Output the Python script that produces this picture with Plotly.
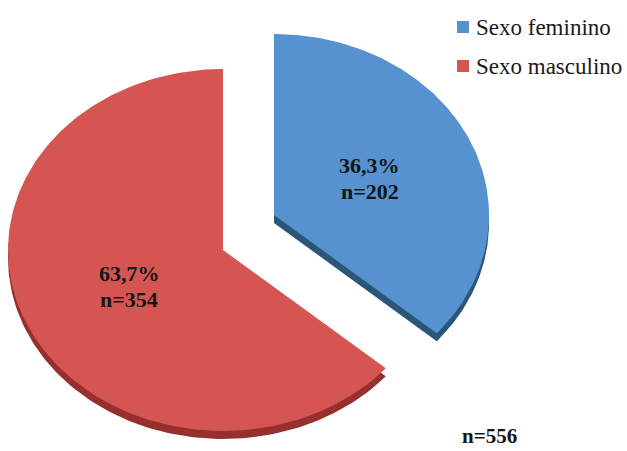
import numpy as np
import plotly.graph_objects as go

# Data
categories = ["Sexo feminino", "Sexo masculino"]
counts = [202, 354]
total_label = "n=556"

# Styling
SERIF = "Liberation Serif"
top_colors = ["#5592cf", "#d45552"]
side_colors = ["#2c5677", "#962f2d"]
W, H = 627, 451
RX, RY = 215, 181          # pie ellipse radii (px in axis units)
DEPTH = 8                  # thickness of the 3D rim
centers = [(274, 215), (223, 250)]   # blue slice is pulled out
label_r = [0.49, 0.48]

# key (legend) placement
KEY_X, KEY_Y0, KEY_DY = 463, 27, 39

total = sum(counts)
fracs = [c / total for c in counts]
pct_text = [f"{100 * f:.1f}%".replace(".", ",") for f in fracs]
n_text = [f"n={c}" for c in counts]

starts = np.cumsum([0] + fracs[:-1]) * 360.0
ends = starts + np.array(fracs) * 360.0


def wedge(cx, cy, a0, a1, dy=0.0):
    t = np.radians(np.linspace(a0, a1, 200))
    xs = np.concatenate([[cx], cx + RX * np.sin(t), [cx]])
    ys = np.concatenate([[cy], cy - RY * np.cos(t), [cy]]) + dy
    return xs, ys


fig = go.Figure()

# rims first, then tops
for i in range(len(counts)):
    cx, cy = centers[i]
    xs, ys = wedge(cx, cy, starts[i], ends[i], DEPTH)
    fig.add_trace(go.Scatter(x=xs, y=ys, fill="toself", mode="lines",
                             line=dict(width=0, color=side_colors[i]),
                             fillcolor=side_colors[i], showlegend=False,
                             hoverinfo="skip"))
for i in range(len(counts)):
    cx, cy = centers[i]
    xs, ys = wedge(cx, cy, starts[i], ends[i])
    fig.add_trace(go.Scatter(x=xs, y=ys, fill="toself", mode="lines",
                             line=dict(width=0, color=top_colors[i]),
                             fillcolor=top_colors[i], showlegend=False,
                             name=categories[i]))

# slice labels: percentage and count on separate lines
for i in range(len(counts)):
    cx, cy = centers[i]
    mid = np.radians((starts[i] + ends[i]) / 2)
    lx = cx + label_r[i] * RX * np.sin(mid)
    ly = cy - label_r[i] * RY * np.cos(mid)
    for text, dy in ((pct_text[i], -13), (n_text[i], 13)):
        fig.add_annotation(x=lx, y=ly + dy, xref="x", yref="y", showarrow=False,
                           text=f"<b>{text}</b>",
                           font=dict(family=SERIF, size=22, color="#151515"))

# key: coloured squares with category names
key_y = [KEY_Y0 + k * KEY_DY for k in range(len(categories))]
fig.add_trace(go.Scatter(x=[KEY_X] * len(categories), y=key_y, mode="markers",
                         marker=dict(symbol="square", size=12, color=top_colors),
                         showlegend=False, hoverinfo="skip"))
for k, name in enumerate(categories):
    fig.add_annotation(x=KEY_X + 11, y=key_y[k], xref="x", yref="y",
                       xanchor="left", showarrow=False, text=name,
                       font=dict(family=SERIF, size=23, color="#1a1a1a"))

fig.add_annotation(x=489, y=436, text=f"<b>{total_label}</b>", showarrow=False,
                   xref="x", yref="y",
                   font=dict(family=SERIF, size=21, color="#151515"))

fig.update_layout(
    width=W, height=H,
    margin=dict(l=0, r=0, t=0, b=0),
    paper_bgcolor="white", plot_bgcolor="white",
    xaxis=dict(range=[0, W], visible=False, fixedrange=True),
    yaxis=dict(range=[H, 0], visible=False, fixedrange=True),
    showlegend=False,
)

fig.write_html("out.html")
